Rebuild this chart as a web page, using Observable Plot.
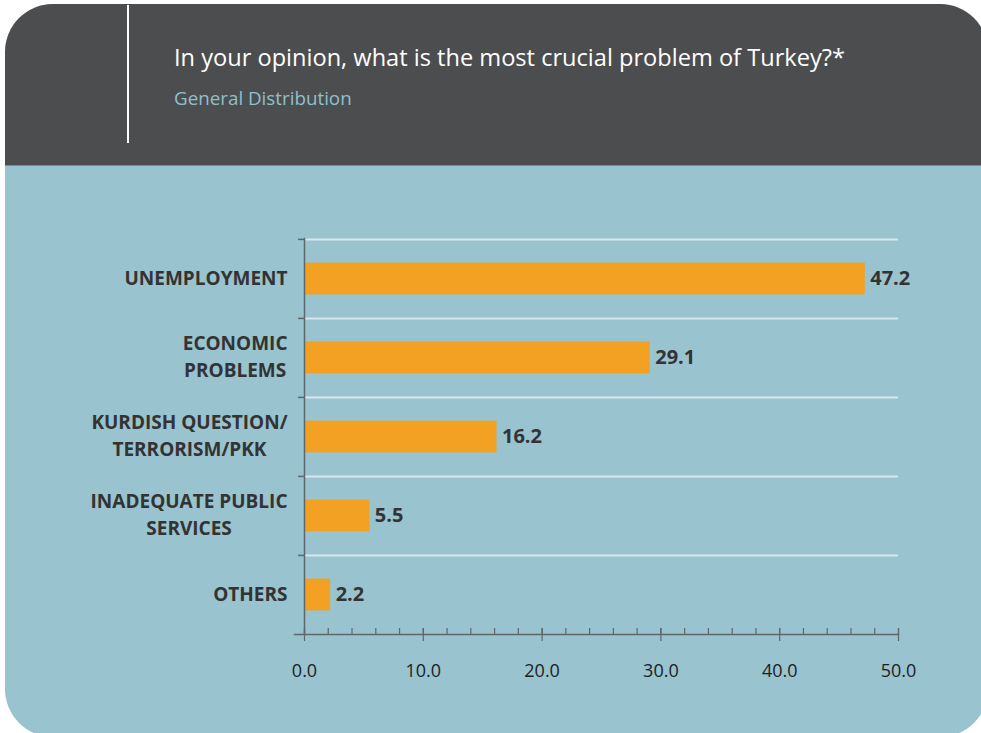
<!DOCTYPE html>
<html>
<head>
<meta charset="utf-8">
<script src="https://cdn.jsdelivr.net/npm/d3@7"></script>
<script src="https://cdn.jsdelivr.net/npm/@observablehq/plot@0.6"></script>
<style>
  html, body { margin: 0; padding: 0; background: #ffffff; }
  body { width: 981px; height: 733px; overflow: hidden; position: relative; font-family: "Open Sans", sans-serif; }
  #panel { position: absolute; left: 5px; top: 4px; width: 983px; height: 733px; border-radius: 48px; background: #98c3cf; overflow: hidden; }
  #header { position: absolute; left: 0; top: 0; width: 100%; height: 161px; background: #4c4d4f; border-bottom: 1px solid #7d8a8e; }
  #vline { position: absolute; left: 122px; top: 1px; width: 2px; height: 138px; background: #ffffff; }
  #title { position: absolute; left: 169px; top: 41.5px; font-size: 23.6px; line-height: 23.6px; color: #ffffff; white-space: nowrap; }
  #subtitle { position: absolute; left: 169px; top: 84.6px; font-size: 18.8px; line-height: 18.8px; color: #8fc0cc; white-space: nowrap; }
  #chart { position: absolute; left: 0; top: 0; }
</style>
</head>
<body>
<div id="panel">
  <div id="header">
    <div id="vline"></div>
    <div id="title">In your opinion, what is the most crucial problem of Turkey?*</div>
    <div id="subtitle">General Distribution</div>
  </div>
</div>
<div id="chart"></div>
<script>
const categories = [
  "UNEMPLOYMENT",
  "ECONOMIC\nPROBLEMS",
  "KURDISH QUESTION/\nTERRORISM/PKK",
  "INADEQUATE PUBLIC\nSERVICES",
  "OTHERS"
];
const values = [47.2, 29.1, 16.2, 5.5, 2.2];
const majorTicks = [0, 10, 20, 30, 40, 50];
const minorTicks = [0, 2, 4, 6, 8, 10, 12, 14, 16, 18, 20, 22, 24, 26, 28, 30, 32, 34, 36, 38, 40, 42, 44, 46, 48, 50];

const data = categories.map((c, i) => ({category: c, value: values[i]}));

const W = 981, H = 733;
const mL = 304, mR = 83, mT = 238, mB = 99;
const step = (H - mT - mB) / categories.length;
const axisColor = "#5d686c";
const font = "Open Sans";

const chart = Plot.plot({
  width: W,
  height: H,
  marginLeft: mL,
  marginRight: mR,
  marginTop: mT,
  marginBottom: mB,
  style: {background: "transparent", fontFamily: font, overflow: "visible"},
  x: {domain: [0, 50], label: null},
  y: {domain: categories, padding: 0, label: null},
  marks: [
    Plot.ruleY(categories, {dy: -step / 2, x1: 0, x2: 50, stroke: "#d5e8ed", strokeWidth: 2}),
    Plot.ruleY(categories, {dy: -step / 2, x1: -0.5, x2: 0, stroke: axisColor, strokeWidth: 1.5}),
    Plot.barX(data, {x: "value", y: "category", fill: "#f2a122", insetTop: 23.6, insetBottom: 23.6}),
    Plot.text(data, {
      x: "value", y: "category", text: d => d.value.toFixed(1),
      textAnchor: "start", dx: 5, fontSize: 20, fontWeight: 700, fill: "#333333", fontFamily: font
    }),
    Plot.frame({anchor: "left", stroke: axisColor, strokeWidth: 1.5}),
    Plot.frame({anchor: "bottom", insetLeft: -10, stroke: axisColor, strokeWidth: 1.5}),
    Plot.axisX(minorTicks, {tickSize: 6, dy: -6, tickFormat: () => "", stroke: axisColor, strokeWidth: 1.2, label: null}),
    Plot.axisX(majorTicks, {tickSize: 13, dy: -6, tickFormat: () => "", stroke: axisColor, strokeWidth: 1.2, label: null}),
    Plot.axisX(majorTicks, {tickSize: 0, tickPadding: 30, tickFormat: d => d.toFixed(1), fontSize: 18, fill: "#1e1e1e", fontFamily: font, label: null}),
    Plot.axisY({tickSize: 0, tickPadding: 17, dy: -3, fontSize: 19, fontWeight: 700, fill: "#333333", fontFamily: font, lineHeight: 1.4, label: null})
  ]
});
document.getElementById("chart").appendChild(chart);

// Center the lines of multi-line category labels within their right-aligned block
d3.select(chart).selectAll('g[aria-label="y-axis tick label"] text').each(function () {
  const tspans = Array.from(this.querySelectorAll("tspan"));
  if (tspans.length < 2) return;
  const maxW = d3.max(tspans, t => t.getComputedTextLength());
  this.setAttribute("text-anchor", "middle");
  tspans.forEach(t => t.setAttribute("x", -maxW / 2));
});
</script>
</body>
</html>
